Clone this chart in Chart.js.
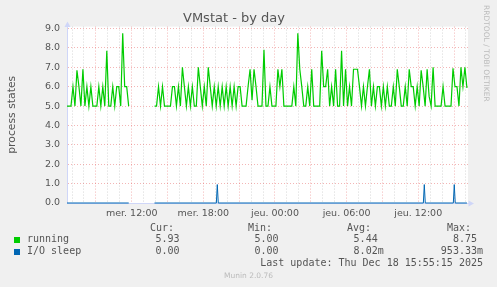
<!DOCTYPE html>
<html>
<head>
<meta charset="utf-8">
<script src="https://cdn.jsdelivr.net/npm/chart.js@4.4.1/dist/chart.umd.min.js"></script>
<style>
  body { margin: 0; background: #f0f0f0; }
  #wrap { position: relative; width: 497px; height: 287px; overflow: hidden; }
  #chart { position: absolute; left: 0; top: 0; }
  .txt { position: absolute; font: 10px "DejaVu Sans Mono", monospace; color: #555; white-space: pre; line-height: 12px; }
  .sq { position: absolute; width: 6px; height: 6px; }
  #rrd { position: absolute; left: 482px; top: 5px; writing-mode: vertical-rl; font: 7.5px "DejaVu Sans", sans-serif; color: #bbb; white-space: pre; }
  #munin { position: absolute; left: 0; width: 497px; top: 271px; text-align: center; font: 7.5px "DejaVu Sans", sans-serif; color: #bbb; }
</style>
</head>
<body>
<div id="wrap">
  <canvas id="chart" width="497" height="287"></canvas>
  <div id="rrd">RRDTOOL / TOBI OETIKER</div>
  <div id="munin">Munin 2.0.76</div>
</div>
<script>
// time axis is in hours counted from Wed 00:00
const xMin = 6.58;
const xMax = 40.17;
const xLabelHours = [12, 18, 24, 30, 36];
const xLabelText = ["mer. 12:00", "mer. 18:00", "jeu. 00:00", "jeu. 06:00", "jeu. 12:00"];

// running: one sample every 10 minutes from runStart, null = no data
const runStart = 6.58;
const runStep = 1 / 6;
const running = [
    5, 5, 5, 6, 5, 6.85, 6, 5, 6.9, 5,
    6, 5, 6, 5, 5, 5, 6, 5, 6, 5,
    7.85, 5, 5, 6, 5, 6, 6, 5, 8.75, 6,
    6, 5, null, null, null, null, null, null, null, null,
    null, null, null, null, 5, 5, 6, 5, 6, 5,
    5, 5, 5, 6, 6, 5, 6, 5, 7, 6,
    5, 6, 5, 6, 5, 5, 7, 6, 5, 6,
    5, 7, 6, 5, 6, 5, 6, 5, 6, 5,
    6, 5, 6, 5, 6, 5, 6, 6, 5, 5,
    5, 6, 6.9, 5.3, 6.9, 6, 5, 5, 5, 7.9,
    5, 5, 6, 5, 5, 5, 6.9, 6, 6.9, 5,
    5, 5, 5, 5, 6, 5, 8.75, 6.9, 6, 5,
    5, 6, 5, 6.9, 5, 5, 5, 5, 7.85, 6,
    6, 6.9, 5, 6, 5, 6.9, 5, 5, 7.85, 5,
    6.9, 5, 6, 5, 6.9, 6.9, 6.9, 6, 5, 6,
    5, 6, 6.9, 5, 6, 5, 6, 6, 5, 6,
    5, 6, 5, 5, 6, 5, 6.9, 6, 5, 5,
    6, 5, 6.9, 6, 6, 5, 6, 5, 6.85, 6,
    5, 6.9, 5.5, 5, 7, 5, 5, 5, 5, 6,
    5, 5, 5, 5, 6.95, 6, 6, 5, 7, 6,
    7, 5.93
];

// I/O sleep: sparse samples (hours, value)
const ioTimes = [6.58, 11.75, 11.9, 13.91, 19.09, 19.17, 19.25, 36.43, 36.51, 36.59, 38.94, 39.02, 39.1, 40.08];
const ioSleep = [0, 0, null, 0, 0, 0.95, 0, 0, 0.95, 0, 0, 0.95, 0, 0];

const seriesNames = ["running", "I/O sleep"];
const seriesColors = ["#00cc00", "#0066b3"];
const statHeads = ["Cur:", "Min:", "Avg:", "Max:"];
const runningStats = ["5.93 ", "5.00 ", "5.44 ", "8.75 "];
const ioStats = ["0.00 ", "0.00 ", "8.02m", "953.33m"];
const lastUpdate = "Last update: Thu Dec 18 15:55:15 2025";

const majorGrid = "rgba(225, 70, 70, 0.4)";
const minorGrid = "rgba(140, 140, 140, 0.35)";
const axisColor = "#cfd6f8";
const fontColor = "#555";

const runData = running.map((v, i) => ({ x: runStart + i * runStep, y: v }));
const ioData = ioTimes.map((t, i) => ({ x: t, y: ioSleep[i] }));

const hourTicks = [];
for (let h = 7; h <= 40; h++) hourTicks.push({ value: h });
const yTicks = [];
for (let v = 0; v <= 9; v += 0.5) yTicks.push({ value: v });

const bgPlugin = {
    id: "bg",
    beforeDraw(chart) {
        const a = chart.chartArea;
        const c = chart.ctx;
        c.save();
        c.fillStyle = "#ffffff";
        c.fillRect(a.left, a.top, a.right - a.left, a.bottom - a.top);
        c.restore();
    },
    afterDraw(chart) {
        const a = chart.chartArea;
        const c = chart.ctx;
        c.save();
        c.fillStyle = axisColor;
        c.beginPath();
        c.moveTo(a.left + 0.5, a.top - 5);
        c.lineTo(a.left - 2.5, a.top + 0.5);
        c.lineTo(a.left + 3.5, a.top + 0.5);
        c.fill();
        c.beginPath();
        c.moveTo(a.right + 6, a.bottom + 0.5);
        c.lineTo(a.right + 0.5, a.bottom - 2.5);
        c.lineTo(a.right + 0.5, a.bottom + 3.5);
        c.fill();
        c.restore();
    }
};

const ctx = document.getElementById("chart").getContext("2d");
new Chart(ctx, {
    type: "line",
    data: {
        datasets: [
            { label: seriesNames[1], data: ioData, borderColor: seriesColors[1], borderWidth: 1, pointRadius: 0, tension: 0, clip: false },
            { label: seriesNames[0], data: runData, borderColor: seriesColors[0], borderWidth: 1.2, pointRadius: 0, tension: 0, clip: false }
        ]
    },
    options: {
        responsive: false,
        animation: false,
        events: [],
        layout: { padding: { left: 0, right: 29, top: 0, bottom: 64 } },
        plugins: {
            legend: { display: false },
            tooltip: { enabled: false },
            title: {
                display: true,
                text: "VMstat - by day",
                color: fontColor,
                font: { family: "DejaVu Sans", size: 13, weight: "normal" },
                padding: { top: 11, bottom: 0 }
            }
        },
        scales: {
            x: {
                type: "linear",
                min: xMin,
                max: xMax,
                afterBuildTicks: s => { s.ticks = hourTicks.map(t => ({ value: t.value })); },
                afterFit: s => { s.height = 20; },
                grid: {
                    color: c => (c.tick && c.tick.value % 3 === 0) ? majorGrid : minorGrid,
                    drawTicks: false,
                    lineWidth: 1
                },
                border: { color: axisColor, dash: [1, 2] },
                ticks: {
                    autoSkip: false,
                    maxRotation: 0,
                    padding: 5,
                    color: fontColor,
                    font: { family: "DejaVu Sans", size: 9.5 },
                    callback: v => {
                        const k = xLabelHours.indexOf(v);
                        return k >= 0 ? xLabelText[k] : "";
                    }
                }
            },
            y: {
                min: 0,
                max: 9.1,
                afterBuildTicks: s => { s.ticks = yTicks.map(t => ({ value: t.value })); },
                afterFit: s => { s.width = 67; },
                grid: {
                    color: c => (c.tick && Number.isInteger(c.tick.value)) ? majorGrid : minorGrid,
                    drawTicks: false,
                    lineWidth: 1
                },
                border: { color: axisColor, dash: [1, 2] },
                ticks: {
                    padding: 7,
                    color: fontColor,
                    font: { family: "DejaVu Sans", size: 9.5 },
                    callback: v => Number.isInteger(v) ? v.toFixed(1) : ""
                },
                title: {
                    display: true,
                    text: "process states",
                    color: fontColor,
                    font: { family: "DejaVu Sans", size: 10.8 },
                    padding: { top: 5.5, bottom: 0 }
                }
            }
        }
    },
    plugins: [bgPlugin]
});

// legend block under the plot
const wrap = document.getElementById("wrap");
function addText(str, left, top, right) {
    const d = document.createElement("div");
    d.className = "txt";
    d.textContent = str;
    d.style.top = top + "px";
    if (right !== undefined) d.style.right = (497 - right) + "px";
    else d.style.left = left + "px";
    wrap.appendChild(d);
}
const headLeft = [150, 248, 347, 447];
const valRight = [185.5, 284.5, 383.7, 483];
const rowTops = [233, 245];
statHeads.forEach((h, i) => addText(h, headLeft[i], 222));
[runningStats, ioStats].forEach((stats, r) => {
    const sq = document.createElement("div");
    sq.className = "sq";
    sq.style.left = "14px";
    sq.style.top = (rowTops[r] + 4) + "px";
    sq.style.background = seriesColors[r];
    wrap.appendChild(sq);
    addText(seriesNames[r], 27, rowTops[r]);
    stats.forEach((s, i) => addText(s, 0, rowTops[r], valRight[i]));
});
addText(lastUpdate, 0, 257, 483);
</script>
</body>
</html>
